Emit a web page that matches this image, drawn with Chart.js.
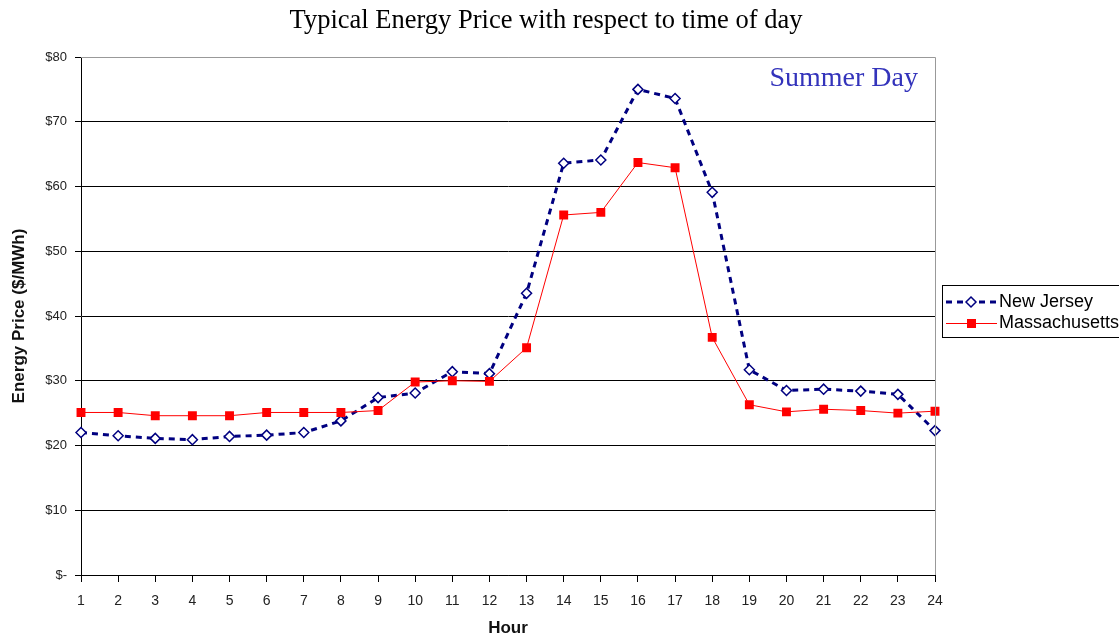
<!DOCTYPE html>
<html><head><meta charset="utf-8">
<script src="https://cdn.jsdelivr.net/npm/chart.js@4/dist/chart.umd.min.js"></script>
<style>html,body{margin:0;padding:0;background:#fff;overflow:hidden}canvas{display:block}</style>
</head><body>
<canvas id="c" width="1119" height="637"></canvas>
<script>
const chartTitle = 'Typical Energy Price with respect to time of day';
const noteText = 'Summer Day';
const hours = ['1','2','3','4','5','6','7','8','9','10','11','12','13','14','15','16','17','18','19','20','21','22','23','24'];
const newJersey = [22.0,21.5,21.1,20.9,21.4,21.6,22.0,23.8,27.4,28.1,31.4,31.1,43.5,63.6,64.1,75.0,73.6,59.1,31.7,28.5,28.7,28.4,27.9,22.3];
const massachusetts = [25.1,25.1,24.6,24.6,24.6,25.1,25.1,25.1,25.4,29.8,30.0,29.9,35.1,55.6,56.0,63.7,62.9,36.7,26.3,25.2,25.6,25.4,25.0,25.3];
const seriesNames = ['New Jersey','Massachusetts'];
const yMin = 0, yMax = 80, yStep = 10;

const NAVY = '#000080', RED = '#ff0000';

const extras = {
  id: 'extras',
  afterDraw(chart) {
    const ctx = chart.ctx, a = chart.chartArea;
    ctx.save();
    // grey top/right frame
    ctx.strokeStyle = '#999';
    ctx.lineWidth = 1;
    ctx.beginPath();
    ctx.moveTo(a.left, a.top + 0.5);
    ctx.lineTo(a.right + 0.5, a.top + 0.5);
    ctx.lineTo(a.right + 0.5, a.bottom);
    ctx.stroke();
    // title
    ctx.fillStyle = '#000';
    ctx.font = '26.5px "Liberation Serif", "Times New Roman", serif';
    ctx.textAlign = 'center';
    ctx.textBaseline = 'middle';
    ctx.fillText(chartTitle, 546, 21);
    // note
    ctx.fillStyle = '#3333bb';
    ctx.font = '28px "Liberation Serif", "Times New Roman", serif';
    ctx.textAlign = 'right';
    ctx.fillText(noteText, 918, 79);
    // legend
    const lx = 942.5, ly = 285.5, lw = 200, lh = 52;
    ctx.strokeStyle = '#000';
    ctx.lineWidth = 1;
    ctx.strokeRect(lx, ly, lw, lh);
    const rows = [302, 323];
    // NJ sample
    ctx.strokeStyle = NAVY; ctx.lineWidth = 3; ctx.setLineDash([6,5]);
    ctx.beginPath(); ctx.moveTo(946, rows[0]); ctx.lineTo(997, rows[0]); ctx.stroke();
    ctx.setLineDash([]);
    ctx.fillStyle = '#fff'; ctx.lineWidth = 1.5;
    ctx.beginPath();
    ctx.moveTo(971, rows[0]-5); ctx.lineTo(976, rows[0]); ctx.lineTo(971, rows[0]+5); ctx.lineTo(966, rows[0]); ctx.closePath();
    ctx.fill(); ctx.stroke();
    // MA sample
    ctx.strokeStyle = RED; ctx.lineWidth = 1;
    ctx.beginPath(); ctx.moveTo(946, rows[1]+0.5); ctx.lineTo(997, rows[1]+0.5); ctx.stroke();
    ctx.fillStyle = RED;
    ctx.fillRect(967, rows[1]-4, 9, 9);
    // texts
    ctx.fillStyle = '#000';
    ctx.font = '18px "Liberation Sans", Arial, sans-serif';
    ctx.textAlign = 'left';
    ctx.textBaseline = 'middle';
    ctx.fillText(seriesNames[0], 999, rows[0]);
    ctx.fillText(seriesNames[1], 999, rows[1]);
    ctx.restore();
  }
};

new Chart(document.getElementById('c'), {
  type: 'line',
  data: {
    labels: hours,
    datasets: [
      {
        label: seriesNames[0], data: newJersey,
        borderColor: NAVY, borderWidth: 3, borderDash: [6,5], borderCapStyle: 'butt',
        pointStyle: 'rectRot', pointRadius: 5, pointBackgroundColor: '#fff',
        pointBorderColor: NAVY, pointBorderWidth: 1.5, tension: 0, order: 2
      },
      {
        label: seriesNames[1], data: massachusetts,
        borderColor: RED, borderWidth: 1, tension: 0,
        pointStyle: 'rect', pointRadius: 6.3, pointBackgroundColor: RED,
        pointBorderColor: RED, pointBorderWidth: 0, order: 1
      }
    ]
  },
  options: {
    responsive: false, animation: false, devicePixelRatio: 1,
    layout: { padding: { left: 0, top: 57, right: 184, bottom: 0 } },
    plugins: { legend: { display: false }, title: { display: false }, tooltip: { enabled: false } },
    scales: {
      x: {
        type: 'category', offset: false,
        grid: { drawOnChartArea: false, drawTicks: true, tickLength: 7, tickColor: '#000' },
        border: { color: '#000', width: 1 },
        ticks: { color: '#222', font: { family: '"Liberation Sans", Arial, sans-serif', size: 14 }, padding: 11, maxRotation: 0, autoSkip: false },
        title: { display: true, text: 'Hour', color: '#111', font: { family: '"Liberation Sans", Arial, sans-serif', size: 17, weight: 'bold', lineHeight: 1 }, padding: { top: 0, bottom: 0 } },
        afterFit(s) { s.height = 62; }
      },
      y: {
        min: yMin, max: yMax,
        ticks: { stepSize: yStep, color: '#222', font: { family: '"Liberation Sans", Arial, sans-serif', size: 13 }, padding: 8,
          callback: v => v === 0 ? '$-' : '$' + v },
        grid: { color: c => (c.tick && c.tick.value === yMax) ? '#999' : '#000', tickColor: '#000', tickLength: 6, lineWidth: 1 },
        border: { color: '#000', width: 1 },
        title: { display: true, text: 'Energy Price ($/MWh)', color: '#111', font: { family: '"Liberation Sans", Arial, sans-serif', size: 17, weight: 'bold', lineHeight: 1 }, padding: { top: 11, bottom: 0 } },
        afterFit(s) { s.width = 81; }
      }
    }
  },
  plugins: [extras]
});
</script>
</body></html>
